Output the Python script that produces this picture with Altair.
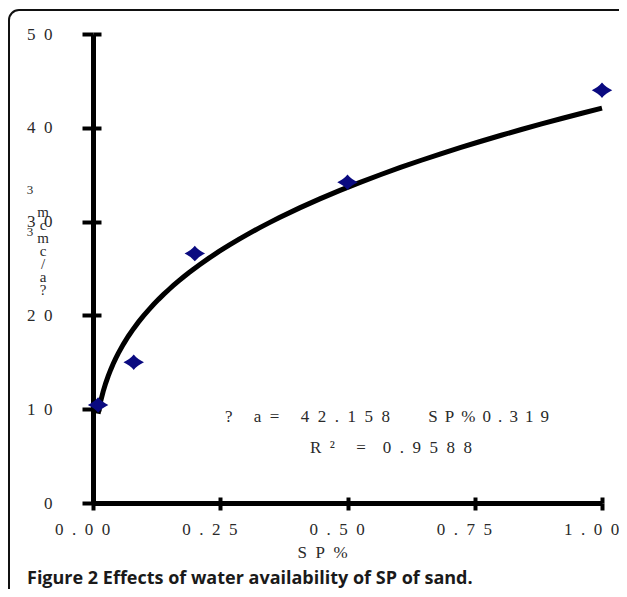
import altair as alt
import pandas as pd

# ---- data ----
sp_pct = [0.01, 0.08, 0.20, 0.50, 1.00]
water_avail = [10.45, 15.0, 26.6, 34.2, 44.0]
x_ticks = [0, 0.25, 0.5, 0.75, 1.0]
y_ticks = [0, 10, 20, 30, 40, 50]

EN = "\u2002"
TH = "\u2005\u2006"
eq_text = ("?" + EN + EN + " a" + EN + "=" + EN + EN + " " + EN.join("42.158")
           + EN * 4 + "  " + TH.join("SP%0.319"))
r2_text = "R" + EN + "\u00b2" + EN + EN + " =" + EN + EN + EN.join("0.9588")
x_title = EN.join("SP%")
caption = "Figure 2 Effects of water availability of SP of sand."
ytitle_col = ["m", "c", "m", "c", "/", "a", "?"]
ytitle_sup = ["3", "3"]

df = pd.DataFrame({"x": sp_pct, "y": water_avail})
one = pd.DataFrame({"k": [0]})

SERIF = "Liberation Serif"
LAB = "#2a2a2a"
FS = 17
W, H = 509, 469

xscale = alt.Scale(domain=[0, 1], nice=False, zero=False)
yscale = alt.Scale(domain=[0, 50], nice=False)
spaced = "join(split(datum.label, ''), '\u2002')"

frame = alt.Chart(one).mark_rect(
    fillOpacity=0, stroke="#111111", strokeWidth=2, cornerRadius=10
).encode(
    x=alt.value(-84), x2=alt.value(545), y=alt.value(-24), y2=alt.value(600)
)

curve = alt.Chart(df).transform_regression(
    "x", "y", method="pow", extent=[0.01, 1.0]
).mark_line(color="black", strokeWidth=5).encode(
    x=alt.X("x:Q", scale=xscale, axis=alt.Axis(
        orient="top", offset=-H, values=x_ticks, labels=False, domain=False,
        tickSize=6, tickWidth=4, tickColor="black", title=None, grid=False)),
    y=alt.Y("y:Q", scale=yscale, axis=alt.Axis(
        orient="right", offset=-W, values=y_ticks, labels=False, domain=False,
        tickSize=8, tickWidth=4, tickColor="black", title=None, grid=False)),
)

diamond = ("M-1,0 Q-0.35,-0.3 0,-0.75 Q0.35,-0.3 1,0 "
           "Q0.35,0.3 0,0.75 Q-0.35,0.3 -1,0 Z")

points = alt.Chart(df).mark_point(
    shape=diamond, filled=True, color="#0a0a80", size=420, opacity=1
).encode(
    x=alt.X("x:Q", scale=xscale, axis=alt.Axis(
        orient="bottom", values=x_ticks, format=".2f", labelExpr=spaced,
        labelFlush=False, labelOverlap=False, labelOffset=-11,
        tickSize=7, tickWidth=4, tickColor="black",
        domainWidth=5, domainColor="black", labelPadding=11,
        labelFont=SERIF, labelFontSize=FS, labelColor=LAB,
        title=x_title, titleFont=SERIF, titleFontSize=FS, titleFontWeight="normal",
        titleColor=LAB, titleX=229, titleY=49, titleBaseline="middle", titleAlign="center",
        grid=False)),
    y=alt.Y("y:Q", scale=yscale, axis=alt.Axis(
        orient="left", values=y_ticks, format="d", labelExpr=spaced,
        labelFlush=False, labelOverlap=False,
        tickSize=11, tickWidth=4, tickColor="black",
        domainWidth=5, domainColor="black", labelPadding=30,
        labelFont=SERIF, labelFontSize=FS, labelColor=LAB,
        title=None, grid=False)),
)

eq = alt.Chart(one).mark_text(
    text=eq_text, font=SERIF, fontSize=17, color=LAB, align="left", baseline="middle"
).encode(x=alt.value(132), y=alt.value(383))

r2 = alt.Chart(one).mark_text(
    text=r2_text, font=SERIF, fontSize=17, color=LAB, align="left", baseline="middle"
).encode(x=alt.value(217), y=alt.value(414))

ytitle_a = alt.Chart(one).mark_text(
    text=ytitle_col, font=SERIF, fontSize=15, color=LAB, align="center",
    baseline="middle", lineHeight=13
).encode(x=alt.value(-50), y=alt.value(178))

ytitle_b = alt.Chart(one).mark_text(
    text=ytitle_sup, font=SERIF, fontSize=13, color=LAB, align="center",
    baseline="middle", lineHeight=42
).encode(x=alt.value(-63), y=alt.value(156))

cap = alt.Chart(one).mark_text(
    text=caption, font="Open Sans", fontSize=18, fontWeight="bold", color="#1a1a1a",
    align="left", baseline="alphabetic"
).encode(x=alt.value(-66), y=alt.value(550))

chart = alt.layer(
    frame, curve, points, eq, r2, ytitle_a, ytitle_b, cap
).resolve_axis(x="independent", y="independent").properties(
    width=W, height=H,
    background="white",
    autosize=alt.AutoSizeParams(type="none"),
    padding={"left": 85, "top": 26, "right": 17, "bottom": 86},
).configure_view(strokeWidth=0)

chart.save("out.html", embed_options={"renderer": "svg", "actions": False})
